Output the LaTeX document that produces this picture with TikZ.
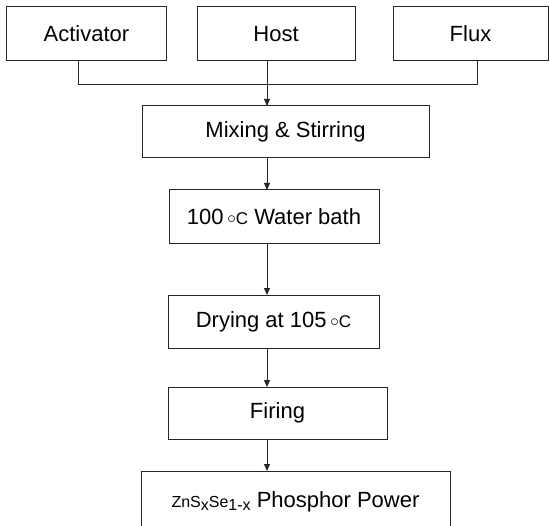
\documentclass[tikz,border=0pt]{standalone}
\usepackage{fontspec}
\setmainfont{Liberation Sans}
\usetikzlibrary{arrows.meta}
\begin{document}
\begin{tikzpicture}[x=1bp,y=-1bp,
  box/.style={draw=black!85, line width=1bp, inner sep=0pt, outer sep=0pt, font=\fontsize{22bp}{24bp}\selectfont},
  link/.style={draw=black!85, line width=1bp},
  arr/.style={link, -{Triangle[length=7bp,width=6bp]}}]
\useasboundingbox (0,0) rectangle (550,526);
\newcommand{\degC}{{\fontsize{17bp}{17bp}\selectfont\raisebox{1bp}{$\circ$}C}}
\node[box, minimum width=159bp, minimum height=54bp] (act) at (86.5,34) {Activator};
\node[box, minimum width=158bp, minimum height=54bp] (host) at (276,34) {Host};
\node[box, minimum width=155bp, minimum height=54bp] (flux) at (470.5,34) {Flux};
\node[box, minimum width=287bp, minimum height=52bp] (mix) at (285.5,132) {Mixing \& Stirring};
\node[box, minimum width=210bp, minimum height=53bp] (water) at (274,216.5) {100\,\degC{} Water bath};
\node[box, minimum width=211bp, minimum height=53bp] (dry) at (273.5,321.5) {Drying at 105\,\degC};
\node[box, minimum width=219bp, minimum height=52bp] (fire) at (277.5,413) {Firing};
\node[box, minimum width=309bp, minimum height=62bp] (final) at (295.5,502) {{\fontsize{16bp}{16bp}\selectfont ZnS\raisebox{-3bp}{x}Se\raisebox{-3bp}{1-x}} Phosphor Power};
\coordinate (ja) at (78,85);
\coordinate (jf) at (477,85);
\coordinate (ax) at (267,0);
\draw[link] (act.south -| ja) -- (ja) -- (jf) -- (flux.south -| jf);
\draw[arr] (host.south -| ax) -- (mix.north -| ax);
\draw[arr] (mix.south -| ax) -- (water.north -| ax);
\draw[arr] (water.south -| ax) -- (dry.north -| ax);
\draw[arr] (dry.south -| ax) -- (fire.north -| ax);
\draw[arr] (fire.south -| ax) -- (final.north -| ax);
\end{tikzpicture}
\end{document}
